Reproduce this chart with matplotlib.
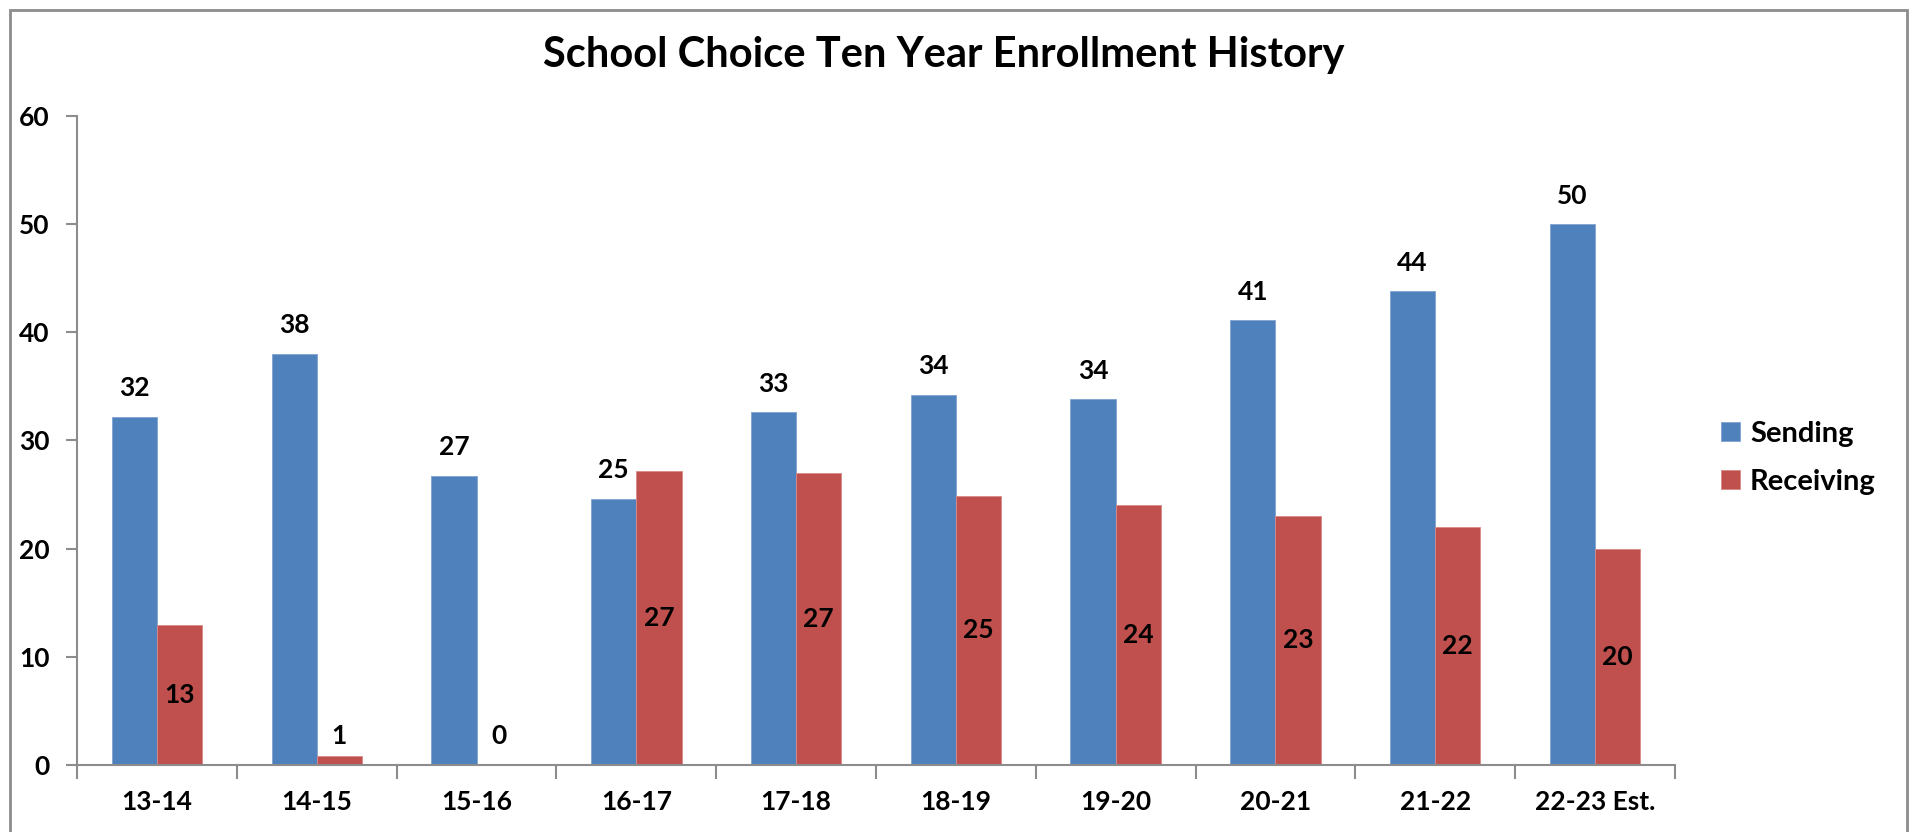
import numpy as np
import matplotlib
matplotlib.use("Agg")
import matplotlib.pyplot as plt
from matplotlib.patches import Rectangle

#---------------------------DATA------------------------------------
years = ["13-14", "14-15", "15-16", "16-17", "17-18", "18-19", "19-20", "20-21", "21-22", "22-23 Est."]
sending = [32.2, 38.0, 26.7, 24.6, 32.6, 34.2, 33.8, 41.1, 43.8, 50.0]
receiving = [12.9, 0.8, 0.0, 27.2, 27.0, 24.9, 24.0, 23.0, 22.0, 20.0]
yticks = [0, 10, 20, 30, 40, 50, 60]
#---------------------------END OF DATA------------------------------

blue = "#4F81BD"
red = "#C0504D"
grey = "#8C8C8C"

plt.rcParams['font.family'] = ['Lato', 'DejaVu Sans']
plt.rcParams['font.weight'] = 'bold'

fig = plt.figure(figsize=(19.17, 8.32), dpi=100)
ax = fig.add_axes([0.0402, 0.0809, 0.8335, 0.7794])

x = np.arange(len(years)) + 0.5
w = 0.283

barsS = ax.bar(x - w/2, sending, w, color=blue, edgecolor="#7FA3D0", linewidth=0.6, label="Sending")
barsR = ax.bar(x + w/2, receiving, w, color=red, edgecolor="#D88A88", linewidth=0.6, label="Receiving")

#labels: sending above the bar, receiving in the middle of the bar
for xi, v in zip(x - w/2, sending):
    ax.annotate(f"{v:.0f}", (xi, v), xytext=(0, 12), textcoords="offset points",
                ha="center", va="bottom", fontsize=19, fontweight="bold")
for xi, v in zip(x + w/2, receiving):
    ax.text(xi, max(v / 2, 2.7), f"{v:.0f}", ha="center", va="center",
            fontsize=19, fontweight="bold")

ax.set_xlim(0, len(years))
ax.set_ylim(0, 60)
ax.set_yticks(yticks)
ax.set_yticklabels([str(t) for t in yticks], fontsize=19, fontweight="bold")

ax.set_xticks(np.arange(len(years) + 1))
ax.set_xticklabels([])
ax.set_xticks(x, minor=True)
ax.set_xticklabels(years, minor=True, fontsize=19, fontweight="bold")
ax.tick_params(axis="x", which="major", length=10, width=1.5, color=grey, direction="out")
ax.tick_params(axis="x", which="minor", length=0, pad=18)
ax.tick_params(axis="y", length=8, width=1.5, color=grey, pad=12)

for s in ["top", "right"]:
    ax.spines[s].set_visible(False)
for s in ["left", "bottom"]:
    ax.spines[s].set_color(grey)
    ax.spines[s].set_linewidth(1.5)

fig.text(0.4925, 0.934, "School Choice Ten Year Enrollment History",
         ha="center", va="center", fontsize=30, fontweight="bold")

leg = fig.legend(handles=[barsS, barsR], loc="center left", bbox_to_anchor=(0.884, 0.45),
                 frameon=False, handlelength=0.65, handleheight=0.65,
                 handletextpad=0.35, labelspacing=0.75, prop={'weight': 'bold', 'size': 21})

# chart border
fig.patches.append(Rectangle((0.005, -0.02), 0.99, 1.008, transform=fig.transFigure,
                             fill=False, edgecolor=grey, linewidth=2))

fig.savefig("out.png", dpi=100)
